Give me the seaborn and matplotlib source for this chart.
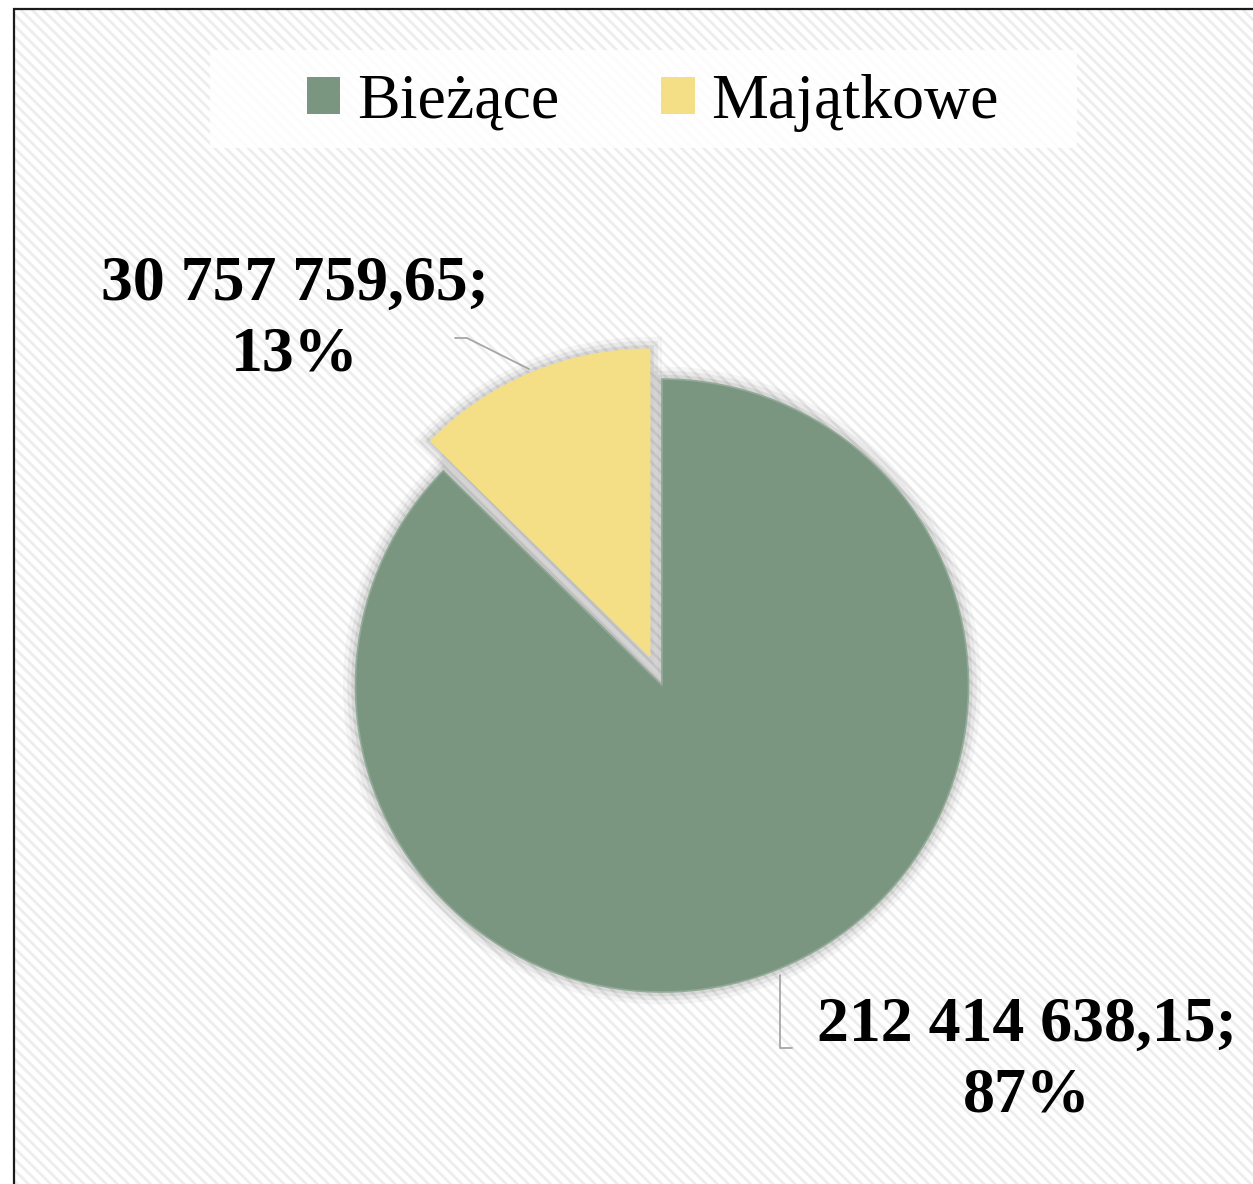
import matplotlib
matplotlib.use("Agg")
import matplotlib.pyplot as plt
import matplotlib.patches as mpatches
import matplotlib.patheffects as pe
import seaborn as sns

# data
CATEGORIES = ["Bieżące", "Majątkowe"]
AMOUNTS = [212414638.15, 30757759.65]
AMOUNT_LABELS = ["212 414 638,15;", "30 757 759,65;"]
PERCENT_LABELS = ["87%", "13%"]
SLICE_COLORS = ["#7a9680", "#f5df86"]

W, H = 1253, 1184
RADIUS = 306.5

sns.set_theme(style="white")
plt.rcParams["font.family"] = ["Liberation Serif", "DejaVu Serif"]
plt.rcParams["hatch.linewidth"] = 2.0


def py(y):
    # pixel row (from top) -> data y
    return H - y


fig = plt.figure(figsize=(W / 100, H / 100), dpi=100)
ax = fig.add_axes([0, 0, 1, 1])

# hatched panel background and its border
ax.add_patch(mpatches.Rectangle((14, py(1300)), 1400, 1300 - 9, facecolor="white",
                                edgecolor="#ededed", hatch="\\\\\\", linewidth=0, zorder=0))
ax.add_patch(mpatches.Rectangle((14, py(1300)), 1400, 1300 - 9, facecolor="none",
                                edgecolor="#1a1a1a", linewidth=1.6, zorder=1))

shadow = [
    pe.Stroke(linewidth=18, foreground="black", alpha=0.035),
    pe.Stroke(linewidth=12, foreground="black", alpha=0.05),
    pe.Stroke(linewidth=6, foreground="black", alpha=0.07),
    pe.Normal(),
]

wedges, _ = ax.pie(
    AMOUNTS,
    colors=SLICE_COLORS,
    startangle=90,
    counterclock=False,
    explode=[0, 0.105 * RADIUS],
    radius=RADIUS,
    center=(662, py(685.5)),
    wedgeprops=dict(linewidth=1.2),
)
wedges[0].set_edgecolor("#92ab97")
wedges[1].set_edgecolor(SLICE_COLORS[1])
for w in wedges:
    w.set_path_effects(shadow)
    w.set_zorder(2)

ax.set_xlim(0, W)
ax.set_ylim(0, H)
ax.set_axis_off()

# leader lines
ax.plot([455, 467, 529], [py(338), py(338), py(369)], color="#a6a6a6", lw=1.3, zorder=3)
ax.plot([792, 780, 780], [py(1048), py(1048), py(975)], color="#a6a6a6", lw=1.3, zorder=3)

# data labels
ax.text(295, py(320), AMOUNT_LABELS[1] + "\n" + PERCENT_LABELS[1], ha="center", va="center",
        fontsize=46, fontweight="bold", linespacing=1.3, color="black", zorder=4)
ax.text(1027, py(1061), AMOUNT_LABELS[0] + "\n" + PERCENT_LABELS[0], ha="center", va="center",
        fontsize=46, fontweight="bold", linespacing=1.3, color="black", zorder=4)

# legend
ax.add_patch(mpatches.Rectangle((210, py(148)), 1077 - 210, 98, facecolor="white",
                                alpha=0.85, edgecolor="none", zorder=4))
handles = [mpatches.Patch(facecolor=c, edgecolor="none") for c in SLICE_COLORS]
leg = ax.legend(
    handles, CATEGORIES,
    loc="center", bbox_to_anchor=(653 / W, 1 - 103 / H),
    ncol=2, fontsize=46, frameon=False, labelcolor="black",
    handlelength=0.52, handleheight=0.52, handletextpad=0.26,
    columnspacing=1.6, borderpad=0.35, borderaxespad=0,
)
leg.set_zorder(5)

fig.savefig("out.png", dpi=100, facecolor="white")
